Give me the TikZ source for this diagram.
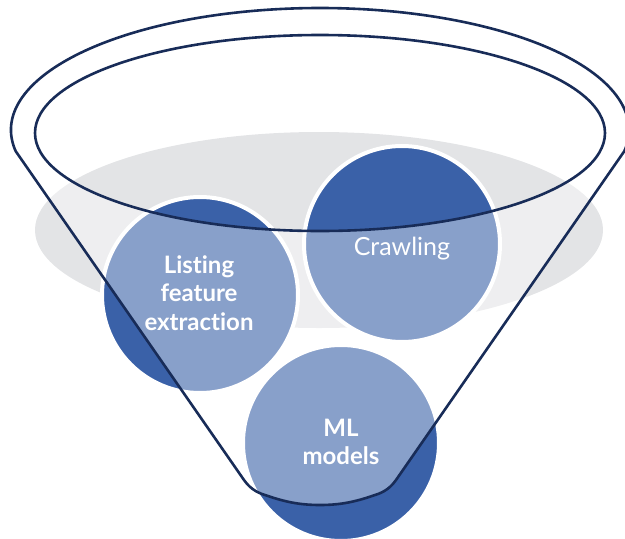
\documentclass[tikz,border=0pt]{standalone}
\usepackage{fontspec}
\setmainfont{Lato}[Ligatures={NoCommon,NoRequired,NoContextual}]
\definecolor{ballblue}{RGB}{58,97,168}
\definecolor{rimnavy}{RGB}{24,44,88}
\definecolor{pool}{RGB}{227,228,230}
\tikzset{
  ball/.style={circle, fill=ballblue, draw=white, line width=4pt, minimum size=196pt, inner sep=0pt},
  rim/.style={draw=rimnavy, line width=2.6pt, line join=round},
  glass/.style={fill=white, fill opacity=0.4, even odd rule},
  boldlabel/.style={text=white, align=center, font=\bfseries\fontsize{24}{28.5}\selectfont},
  plainlabel/.style={text=white, font=\fontsize{25}{30}\selectfont}
}
\begin{document}
\begin{tikzpicture}[x=1pt,y=1pt]
\useasboundingbox (0,0) rectangle (625,-539);
% grey pool
\fill[pool] (319,-230) ellipse[x radius=284, y radius=98];
% balls
\node[ball] (listing) at (200,-295) {};
\node[ball] (crawling) at (402,-244) {};
\node[ball] (ml) at (341,-443) {};
% funnel corners
\path (320,-130) ++(190:309 and 122) coordinate (lc);
\path (320,-130) ++(-10:309 and 122) coordinate (rc);
\def\funnelpath{(lc) arc[start angle=190, end angle=-10, x radius=309, y radius=122]
  -- (396,-480) .. controls (391,-487) and (385,-492) .. (375,-495)
  .. controls (355,-502) and (340,-505) .. (320,-505)
  .. controls (300,-505) and (285,-502) .. (265,-495)
  .. controls (255,-492) and (249,-487) .. (244,-480) -- cycle}
% glass body
\fill[glass] \funnelpath (320,-133) ellipse[x radius=285, y radius=98];
% outlines
\draw[rim] \funnelpath;
\draw[rim] (320,-133) ellipse[x radius=285, y radius=98];
% labels
\node[boldlabel] (listingtext) at (199,-293) {Listing\\feature\\extraction};
\node[plainlabel, anchor=base] (crawlingtext) at (402,-255) {Crawling};
\node[boldlabel] (mltext) at (341,-442) {ML\\models};
\end{tikzpicture}
\end{document}
